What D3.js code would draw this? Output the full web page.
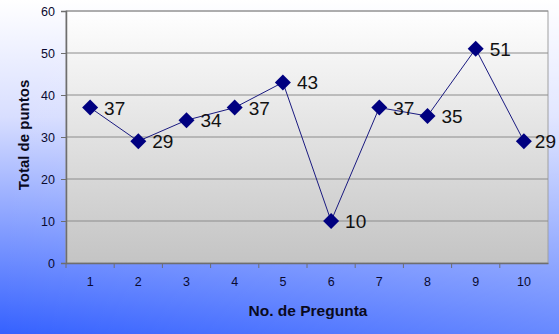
<!DOCTYPE html>
<html>
<head>
<meta charset="utf-8">
<script src="https://cdn.jsdelivr.net/npm/d3@7"></script>
<style>
  html, body { margin: 0; padding: 0; }
  body { width: 559px; height: 334px; overflow: hidden; }
  text { font-family: Arial, "Liberation Sans", sans-serif; }
</style>
</head>
<body>
<div id="chart"></div>
<script>
const preguntas = ["1", "2", "3", "4", "5", "6", "7", "8", "9", "10"];
const puntos = [37, 29, 34, 37, 43, 10, 37, 35, 51, 29];
const yTicks = [0, 10, 20, 30, 40, 50, 60];

const width = 559, height = 334;
const margin = { top: 11, right: 11, bottom: 71, left: 66 };
const w = width - margin.left - margin.right;
const h = height - margin.top - margin.bottom;

const svg = d3.select("#chart").append("svg")
    .attr("width", width)
    .attr("height", height);

// gradients for the outer background and the plot area
const defs = svg.append("defs");
const bg = defs.append("linearGradient").attr("id", "bg")
    .attr("x1", 0).attr("y1", 0).attr("x2", 0).attr("y2", 1);
bg.append("stop").attr("offset", "0%").attr("stop-color", "#ffffff");
bg.append("stop").attr("offset", "35%").attr("stop-color", "#d8deff");
bg.append("stop").attr("offset", "100%").attr("stop-color", "#3561ff");

const bgSide = defs.append("linearGradient").attr("id", "bgSide")
    .attr("x1", 0).attr("y1", 0).attr("x2", 1).attr("y2", 0);
bgSide.append("stop").attr("offset", "0%").attr("stop-color", "#ffffff").attr("stop-opacity", 0);
bgSide.append("stop").attr("offset", "100%").attr("stop-color", "#ffffff").attr("stop-opacity", 0.25);

const plotBg = defs.append("linearGradient").attr("id", "plotBg")
    .attr("x1", 0).attr("y1", 0).attr("x2", 0).attr("y2", 1);
plotBg.append("stop").attr("offset", "0%").attr("stop-color", "#ffffff");
plotBg.append("stop").attr("offset", "100%").attr("stop-color", "#c4c4c4");

svg.append("rect").attr("width", width).attr("height", height).attr("fill", "url(#bg)");
svg.append("rect").attr("width", width).attr("height", height).attr("fill", "url(#bgSide)");

const g = svg.append("g").attr("transform", `translate(${margin.left},${margin.top})`);

const x = d3.scaleBand().domain(preguntas).range([0, w]);
const y = d3.scaleLinear().domain([0, 60]).range([h, 0]);

g.append("rect").attr("width", w).attr("height", h)
    .attr("fill", "url(#plotBg)")
    .attr("stroke", "#a0a0a0");

// gridlines
g.selectAll(".grid").data(yTicks.slice(1)).enter().append("line")
    .attr("x1", 0).attr("x2", w)
    .attr("y1", d => y(d)).attr("y2", d => y(d))
    .attr("stroke", "#8c8c8c").attr("stroke-width", 1);

// y axis
const yAxis = g.append("g").call(d3.axisLeft(y).tickValues(yTicks).tickSize(5).tickPadding(6));
yAxis.select(".domain").attr("stroke", "#6e6e6e").attr("stroke-width", 1.5);
yAxis.selectAll(".tick line").attr("stroke", "#6e6e6e");
yAxis.selectAll("text").attr("font-size", 12.5).attr("fill", "#0a0a30");

// x axis with ticks between categories
const xAxis = g.append("g").attr("transform", `translate(0,${h})`)
    .call(d3.axisBottom(x).tickSize(0).tickPadding(14));
xAxis.select(".domain").attr("stroke", "#6e6e6e").attr("stroke-width", 1.5);
xAxis.selectAll("text").attr("font-size", 12.5).attr("fill", "#0a0a30");
xAxis.selectAll(".sep").data(preguntas).enter().append("line")
    .attr("class", "sep")
    .attr("x1", d => x(d)).attr("x2", d => x(d))
    .attr("y1", 0).attr("y2", 5)
    .attr("stroke", "#6e6e6e");

// line
const cx = d => x(d) + x.bandwidth() / 2;
g.append("path")
    .datum(puntos)
    .attr("fill", "none")
    .attr("stroke", "#1a1a80")
    .attr("stroke-width", 1)
    .attr("d", d3.line().x((d, i) => cx(preguntas[i])).y(d => y(d)));

// diamond markers
g.selectAll(".pt").data(puntos).enter().append("path")
    .attr("transform", (d, i) => `translate(${cx(preguntas[i])},${y(d)})`)
    .attr("d", "M0,-8L8,0L0,8L-8,0Z")
    .attr("fill", "#000080");

// value labels, pulled back in if they would run off the right edge
g.selectAll(".lbl").data(puntos).enter().append("text")
    .attr("y", d => y(d) + 7)
    .attr("font-size", 19)
    .attr("fill", "#111")
    .text(d => d)
    .attr("x", function (d, i) {
        const tw = this.getComputedTextLength();
        const x0 = cx(preguntas[i]) + 14;
        return Math.min(x0, width - margin.left - 3 - tw);
    });

// axis titles
svg.append("text")
    .attr("transform", `translate(29,135) rotate(-90)`)
    .attr("text-anchor", "middle")
    .attr("font-size", 15).attr("font-weight", "bold")
    .attr("fill", "#0a0a20")
    .text("Total de puntos");

svg.append("text")
    .attr("x", 308)
    .attr("y", 316)
    .attr("text-anchor", "middle")
    .attr("font-size", 15.5).attr("font-weight", "bold")
    .attr("fill", "#0a0a20")
    .text("No. de Pregunta");
</script>
</body>
</html>
